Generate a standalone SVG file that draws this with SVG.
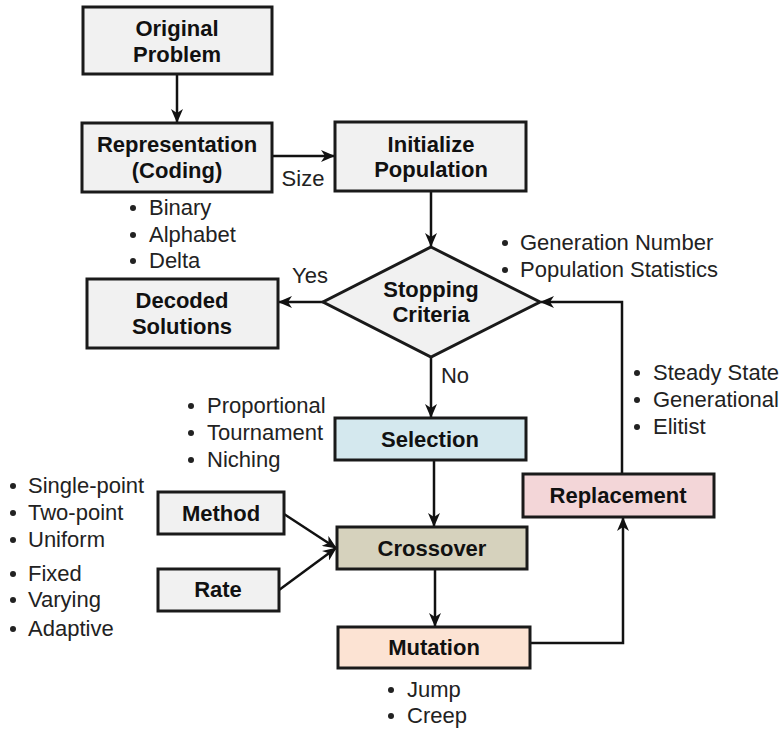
<svg xmlns="http://www.w3.org/2000/svg" width="782" height="732" viewBox="0 0 782 732">
<defs>
<marker id="ah" viewBox="0 0 14 12" refX="13" refY="6" markerWidth="14" markerHeight="12" markerUnits="userSpaceOnUse" orient="auto">
<path d="M0,0 L14,6 L0,12 L4,6 Z" fill="#111"/>
</marker>
<style>
.box{stroke:#1a1a1a;stroke-width:3;fill:#f1f1f1}
.sel{fill:#d4e8ee}.cro{fill:#d6d2bd}.mut{fill:#fce3d3}.rep{fill:#f3d6d8}
.t{font-family:"Liberation Sans",Arial,sans-serif;font-weight:bold;font-size:22px;fill:#111;text-anchor:middle}
.b{font-family:"Liberation Sans",Arial,sans-serif;font-size:22px;fill:#222}
.c{stroke:#111;stroke-width:2.5;fill:none;marker-end:url(#ah)}
.d{fill:#222}
</style>
</defs>
<rect width="782" height="732" fill="#fff"/>
<g id="connectors">
<path class="c" d="M177,75 V122"/>
<path class="c" d="M272,156 H334"/>
<path class="c" d="M431,191 V246"/>
<path class="c" d="M323,302 H279"/>
<path class="c" d="M431,357 V417"/>
<path class="c" d="M434,460 V526"/>
<path class="c" d="M435,569 V626"/>
<path class="c" d="M284,514 L336,548"/>
<path class="c" d="M279,590 L336,548"/>
<path class="c" d="M530,643 H623 V518"/>
<path class="c" d="M622,474 V302 H541"/>
</g>
<g id="edge-labels">
<text class="b" x="303" y="186" text-anchor="middle">Size</text>
<text class="b" x="310" y="283" text-anchor="middle">Yes</text>
<text class="b" x="455" y="383" text-anchor="middle">No</text>
</g>
<g id="original-problem">
<rect class="box" x="83" y="7" width="189" height="67"/>
<text class="t" x="177" y="36">Original</text>
<text class="t" x="177" y="62">Problem</text>
</g>
<g id="representation">
<rect class="box" x="82" y="123" width="190" height="69"/>
<text class="t" x="177" y="152">Representation</text>
<text class="t" x="177" y="178">(Coding)</text>
</g>
<g id="representation-notes">
<circle class="d" cx="133" cy="208" r="3"/><text class="b" x="149" y="215">Binary</text>
<circle class="d" cx="133" cy="235" r="3"/><text class="b" x="149" y="242">Alphabet</text>
<circle class="d" cx="133" cy="261" r="3"/><text class="b" x="149" y="268">Delta</text>
</g>
<g id="initialize-population">
<rect class="box" x="335" y="122" width="191" height="69"/>
<text class="t" x="431" y="152">Initialize</text>
<text class="t" x="431" y="177">Population</text>
</g>
<g id="stopping-criteria">
<polygon class="box" points="431,247 540,302 431,357 323,302"/>
<text class="t" x="431" y="297">Stopping</text>
<text class="t" x="431" y="322">Criteria</text>
</g>
<g id="stopping-notes">
<circle class="d" cx="505" cy="243" r="3"/><text class="b" x="520" y="250">Generation Number</text>
<circle class="d" cx="505" cy="270" r="3"/><text class="b" x="520" y="277">Population Statistics</text>
</g>
<g id="decoded-solutions">
<rect class="box" x="87" y="279" width="191" height="69"/>
<text class="t" x="182" y="308">Decoded</text>
<text class="t" x="182" y="334">Solutions</text>
</g>
<g id="selection">
<rect class="box sel" x="335" y="418" width="191" height="42"/>
<text class="t" x="430" y="447">Selection</text>
</g>
<g id="selection-notes">
<circle class="d" cx="191" cy="406" r="3"/><text class="b" x="207" y="413">Proportional</text>
<circle class="d" cx="191" cy="433" r="3"/><text class="b" x="207" y="440">Tournament</text>
<circle class="d" cx="191" cy="460" r="3"/><text class="b" x="207" y="467">Niching</text>
</g>
<g id="crossover">
<rect class="box cro" x="337" y="527" width="190" height="42"/>
<text class="t" x="432" y="556">Crossover</text>
</g>
<g id="method">
<rect class="box" x="158" y="492" width="126" height="42"/>
<text class="t" x="221" y="521">Method</text>
</g>
<g id="rate">
<rect class="box" x="158" y="569" width="121" height="42"/>
<text class="t" x="218" y="597">Rate</text>
</g>
<g id="crossover-notes">
<circle class="d" cx="13" cy="486" r="3"/><text class="b" x="28" y="493">Single-point</text>
<circle class="d" cx="13" cy="513" r="3"/><text class="b" x="28" y="520">Two-point</text>
<circle class="d" cx="13" cy="540" r="3"/><text class="b" x="28" y="547">Uniform</text>
<circle class="d" cx="13" cy="574" r="3"/><text class="b" x="28" y="581">Fixed</text>
<circle class="d" cx="13" cy="600" r="3"/><text class="b" x="28" y="607">Varying</text>
<circle class="d" cx="13" cy="629" r="3"/><text class="b" x="28" y="636">Adaptive</text>
</g>
<g id="mutation">
<rect class="box mut" x="338" y="627" width="192" height="41"/>
<text class="t" x="434" y="655">Mutation</text>
</g>
<g id="mutation-notes">
<circle class="d" cx="391" cy="690" r="3"/><text class="b" x="407" y="697">Jump</text>
<circle class="d" cx="391" cy="716" r="3"/><text class="b" x="407" y="723">Creep</text>
</g>
<g id="replacement">
<rect class="box rep" x="523" y="474" width="191" height="43"/>
<text class="t" x="618" y="503">Replacement</text>
</g>
<g id="replacement-notes">
<circle class="d" cx="637" cy="373" r="3"/><text class="b" x="653" y="380">Steady State</text>
<circle class="d" cx="637" cy="400" r="3"/><text class="b" x="653" y="407">Generational</text>
<circle class="d" cx="637" cy="427" r="3"/><text class="b" x="653" y="434">Elitist</text>
</g>
</svg>
